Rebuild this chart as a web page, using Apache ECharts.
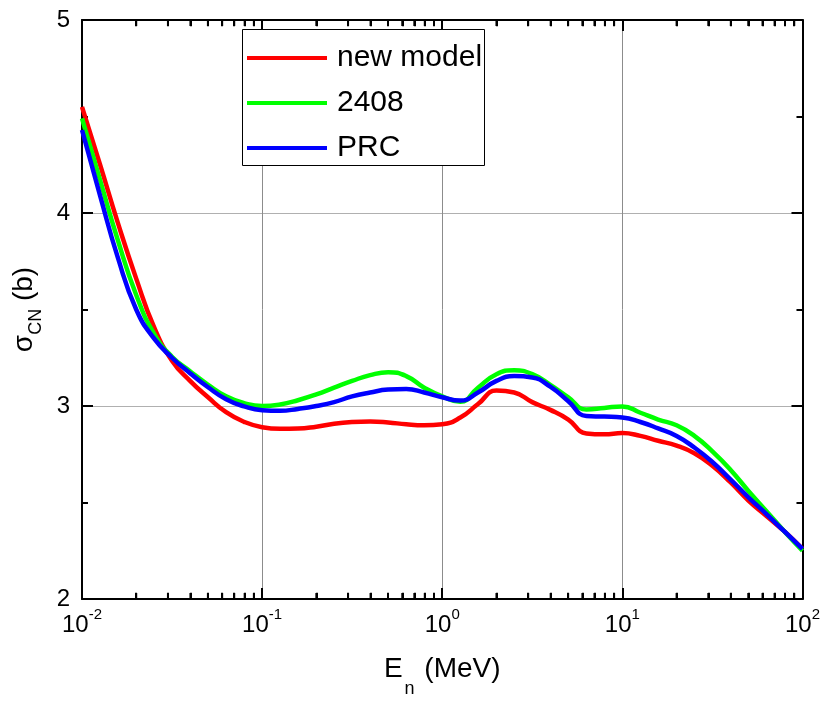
<!DOCTYPE html>
<html>
<head>
<meta charset="utf-8">
<script src="https://cdn.jsdelivr.net/npm/echarts@6/dist/echarts.min.js"></script>
<style>html,body{margin:0;padding:0;background:#fff}#c{width:823px;height:703px}</style>
</head>
<body>
<div id="c"></div>
<script>
// Neutron energy (MeV), sampled every 0.1 decade from 1e-2 to 1e2
const energies = [
  0.01, 0.0126, 0.0158, 0.02, 0.0251, 0.0316, 0.0398, 0.0501, 0.0631, 0.0794,
  0.1, 0.126, 0.158, 0.2, 0.251, 0.316, 0.398, 0.501, 0.631, 0.794,
  1, 1.26, 1.58, 2, 2.51, 3.16, 3.98, 5.01, 6.31, 7.94,
  10, 12.6, 15.8, 20, 25.1, 31.6, 39.8, 50.1, 63.1, 79.4,
  100
];
const seriesNames = ['new model', '2408', 'PRC'];
const newModel = [
  4.55, 4.25, 3.95, 3.66, 3.41, 3.235, 3.13, 3.045, 2.968, 2.918,
  2.89, 2.882, 2.883, 2.893, 2.908, 2.917, 2.92, 2.915, 2.905, 2.90,
  2.905, 2.94, 3.01, 3.08, 3.07, 3.02, 2.98, 2.93, 2.858, 2.853,
  2.86, 2.845, 2.82, 2.795, 2.755, 2.69, 2.605, 2.51, 2.43, 2.35,
  2.26
];
const v2408 = [
  4.49, 4.17, 3.86, 3.575, 3.375, 3.255, 3.18, 3.11, 3.05, 3.015,
  3.0, 3.008, 3.03, 3.06, 3.095, 3.13, 3.16, 3.175, 3.155, 3.095,
  3.05, 3.022, 3.095, 3.165, 3.185, 3.165, 3.11, 3.045, 2.982, 2.99,
  2.998, 2.965, 2.93, 2.90, 2.845, 2.765, 2.67, 2.56, 2.455, 2.35,
  2.25
];
const prc = [
  4.43, 4.09, 3.77, 3.50, 3.35, 3.25, 3.17, 3.097, 3.035, 2.998,
  2.978, 2.975, 2.985, 3.0, 3.02, 3.05, 3.07, 3.085, 3.088, 3.07,
  3.045, 3.028, 3.07, 3.13, 3.155, 3.148, 3.10, 3.025, 2.948, 2.945,
  2.94, 2.917, 2.884, 2.845, 2.785, 2.71, 2.62, 2.527, 2.44, 2.35,
  2.26
];
const yTicks = [2, 3, 4, 5];
// minor tick positions of the logarithmic energy axis
const xMinorTicks = [
  0.02, 0.03, 0.04, 0.05, 0.06, 0.07, 0.08, 0.09,
  0.2, 0.3, 0.4, 0.5, 0.6, 0.7, 0.8, 0.9,
  2, 3, 4, 5, 6, 7, 8, 9,
  20, 30, 40, 50, 60, 70, 80, 90
];
const colors = ['#ff0000', '#00ff00', '#0000ff'];

const FONT = '"Liberation Sans", Arial, Helvetica, sans-serif';
const pair = arr => energies.map((e, i) => [e, arr[i]]);
const Y_MIN = 2, Y_MAX = 5, MINOR_LEN = 0.032;

const chart = echarts.init(document.getElementById('c'), null, {renderer: 'canvas'});

const xLabelFmt = v => {
  const ex = Math.round(Math.log10(v));
  return '{b|10}{s|' + ex + '}';
};
const xRich = {
  b: {fontSize: 24, fontFamily: FONT, color: '#000', lineHeight: 30, verticalAlign: 'bottom'},
  s: {fontSize: 15, fontFamily: FONT, color: '#000', lineHeight: 14, verticalAlign: 'top'}
};

const baseX = {
  type: 'log', logBase: 10, min: 0.01, max: 100,
  axisLine: {show: true, lineStyle: {color: '#000', width: 2}},
  axisTick: {show: true, inside: true, length: 11, lineStyle: {color: '#000', width: 2}},
  minorTick: {show: false}
};
const baseY = {
  type: 'value', min: Y_MIN, max: Y_MAX, interval: 1,
  axisLine: {show: true, lineStyle: {color: '#000', width: 2}},
  axisTick: {show: true, inside: true, length: 11, lineStyle: {color: '#000', width: 2}},
  minorTick: {show: true, splitNumber: 2, length: 6, lineStyle: {color: '#000', width: 2}}
};

const lineSeries = [
  {name: seriesNames[0], data: pair(newModel), color: colors[0]},
  {name: seriesNames[1], data: pair(v2408), color: colors[1]},
  {name: seriesNames[2], data: pair(prc), color: colors[2]}
].map(s => Object.assign({
  type: 'line', smooth: 0.5, showSymbol: false, symbol: 'none',
  lineStyle: {width: 4.5, color: s.color},
  itemStyle: {color: s.color}
}, s));

// log-axis minor ticks on the bottom and top frame, placed through the axis scales
const tickPairs = [];
xMinorTicks.forEach(v => {
  tickPairs.push([{coord: [v, Y_MIN]}, {coord: [v, Y_MIN + MINOR_LEN]}]);
  tickPairs.push([{coord: [v, Y_MAX]}, {coord: [v, Y_MAX - MINOR_LEN]}]);
});
lineSeries[0].markLine = {
  symbol: ['none', 'none'], silent: true, label: {show: false},
  lineStyle: {color: '#000', width: 2, type: 'solid'},
  data: tickPairs
};

const minorTickData = [];
xMinorTicks.forEach(v => {
  minorTickData.push([v, Y_MIN, -1]);
  minorTickData.push([v, Y_MAX, 1]);
});
const minorTickSeries = {
  type: 'custom', name: seriesNames[0],
  data: minorTickData,
  renderItem: (p, api) => {
    const c = api.coord([api.value(0), api.value(1)]);
    const dir = api.value(2);
    return {
      type: 'rect',
      shape: {x: c[0] - 1, y: dir < 0 ? c[1] - 6 : c[1], width: 2, height: 6},
      style: {fill: '#000'}
    };
  }
};

const option = {
  animation: false,
  grid: {left: 82, right: 20, top: 20, bottom: 103},
  xAxis: [
    Object.assign({}, baseX, {
      position: 'bottom',
      axisLabel: {show: true, margin: 8, formatter: xLabelFmt, rich: xRich, showMinLabel: true, showMaxLabel: true},
      splitLine: {show: true, lineStyle: {color: '#8c8c8c', width: 1}},
      name: '{a|E}{s|n}{a| (MeV)}',
      nameLocation: 'middle', nameGap: 56,
      nameTextStyle: {
        rich: {
          a: {fontSize: 28, fontFamily: FONT, color: '#000', lineHeight: 34, verticalAlign: 'top'},
          s: {fontSize: 18, fontFamily: FONT, color: '#000', lineHeight: 18, verticalAlign: 'bottom', padding: [0, 2, -9, 2]}
        }
      }
    }),
    Object.assign({}, baseX, {
      position: 'top',
      axisLabel: {show: false},
      splitLine: {show: false}
    })
  ],
  yAxis: [
    Object.assign({}, baseY, {
      position: 'left',
      axisLabel: {show: true, margin: 12, fontSize: 24, fontFamily: FONT, color: '#000',
        formatter: v => (yTicks.indexOf(v) >= 0 ? String(v) : '')},
      splitLine: {show: true, lineStyle: {color: '#b0b0b0', width: 1}},
      name: '{a|σ}{s|CN}{a| (b)}',
      nameLocation: 'middle', nameGap: 44, nameRotate: 90,
      nameTextStyle: {
        rich: {
          a: {fontSize: 28, fontFamily: FONT, color: '#000', lineHeight: 34, verticalAlign: 'bottom'},
          s: {fontSize: 18, fontFamily: FONT, color: '#000', lineHeight: 18, verticalAlign: 'bottom', padding: [0, 0, -7, 0]}
        }
      }
    }),
    Object.assign({}, baseY, {
      position: 'right',
      axisLabel: {show: false},
      splitLine: {show: false}
    })
  ],
  legend: {
    show: true, orient: 'vertical', left: 242, top: 38, z: 20,
    itemWidth: 80, itemHeight: 30, itemGap: 15,
    icon: 'path://M0,0 L80,0 L80,4 L0,4 Z',
    textStyle: {fontSize: 30, lineHeight: 30, fontFamily: FONT, color: '#000', padding: [0, 0, 0, 5]},
    data: seriesNames
  },
  graphic: [{
    type: 'rect', z: 15,
    shape: {x: 242.5, y: 29.5, width: 242, height: 136},
    style: {fill: '#fff', stroke: '#000', lineWidth: 1}
  }],
  series: lineSeries.concat([minorTickSeries])
};
chart.setOption(option);
</script>
</body>
</html>
